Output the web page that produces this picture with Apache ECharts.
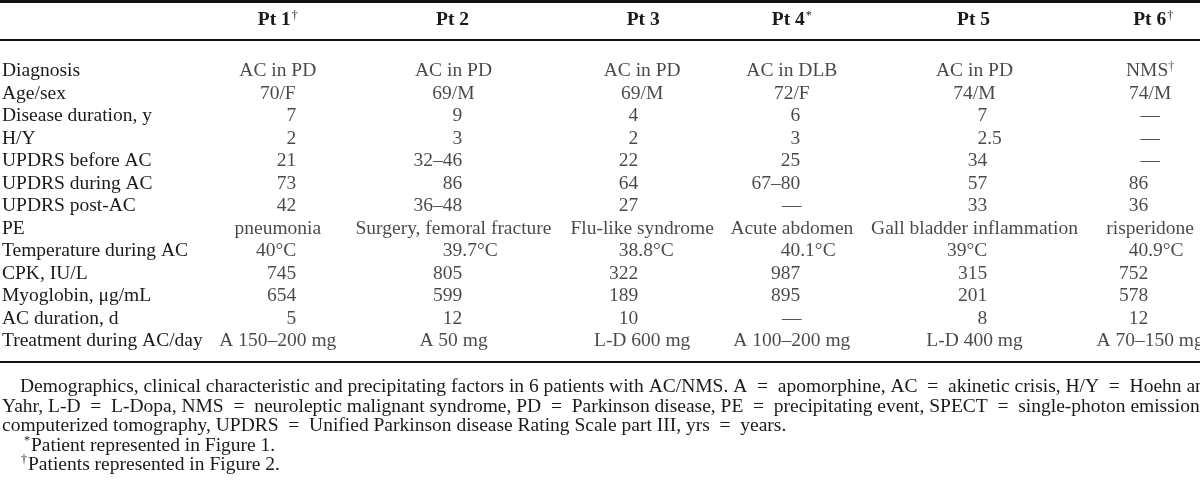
<!DOCTYPE html>
<html><head><meta charset="utf-8">
<script src="https://cdn.jsdelivr.net/npm/echarts@6/dist/echarts.min.js"></script>
<style>html,body{margin:0;padding:0;background:#fff}#c{width:1200px;height:487px}</style>
</head><body><div id="c"></div>
<script>
// ---------- data ----------
const patients = ['Pt 1', 'Pt 2', 'Pt 3', 'Pt 4', 'Pt 5', 'Pt 6'];
const patientMarks = ['†', '', '', '*', '', '†'];
const rowLabels = ['Diagnosis', 'Age/sex', 'Disease duration, y', 'H/Y', 'UPDRS before AC', 'UPDRS during AC',
  'UPDRS post-AC', 'PE', 'Temperature during AC', 'CPK, IU/L', 'Myoglobin, μg/mL', 'AC duration, d', 'Treatment during AC/day'];
const pt1 = ['AC in PD', '70/F', '7', '2', '21', '73', '42', 'pneumonia', '40°C', '745', '654', '5', 'A 150–200 mg'];
const pt2 = ['AC in PD', '69/M', '9', '3', '32–46', '86', '36–48', 'Surgery, femoral fracture', '39.7°C', '805', '599', '12', 'A 50 mg'];
const pt3 = ['AC in PD', '69/M', '4', '2', '22', '64', '27', 'Flu-like syndrome', '38.8°C', '322', '189', '10', 'L-D 600 mg'];
const pt4 = ['AC in DLB', '72/F', '6', '3', '25', '67–80', '—', 'Acute abdomen', '40.1°C', '987', '895', '—', 'A 100–200 mg'];
const pt5 = ['AC in PD', '74/M', '7', '2.5', '34', '57', '33', 'Gall bladder inflammation', '39°C', '315', '201', '8', 'L-D 400 mg'];
const pt6 = ['NMS†', '74/M', '—', '—', '—', '86', '36', 'risperidone', '40.9°C', '752', '578', '12', 'A 70–150 mg'];
const captionLines = [
  'Demographics, clinical characteristic and precipitating factors in 6 patients with AC/NMS. A = apomorphine, AC = akinetic crisis, H/Y = Hoehn and',
  'Yahr, L-D = L-Dopa, NMS = neuroleptic malignant syndrome, PD = Parkinson disease, PE = precipitating event, SPECT = single-photon emission',
  'computerized tomography, UPDRS = Unified Parkinson disease Rating Scale part III, yrs = years.'
];
const footnoteMarks = ['*', '†'];
const footnoteTexts = ['Patient represented in Figure 1.', 'Patients represented in Figure 2.'];

// ---------- layout / style ----------
const FONT = '"Liberation Serif", "DejaVu Serif", serif';
const FS = 19.5;
const INK = '#1a1a1a';
const GRID = { left: 194, top: 59.75, width: 1042, height: 13 * 22.5, outerBoundsMode: 'none', containLabel: false };
const colShift = [-3, -1, 14, -10, -1, 1];             // text-cell centre shift per column
const anchorShift = [15.5, 7.8, 10.1, -1.6, 11.7, -1]; // numeric alignment point per column
const headerShift = [-3, -2, 15, -10, -2, 4];

const columns = [pt1, pt2, pt3, pt4, pt5, pt6];
const centerData = [], rightData = [], leftData = [];
const numRe = /^\d+([.–]\d+)?(°C)?$/;
columns.forEach((col, c) => {
  col.forEach((v, r) => {
    if (numRe.test(v)) {
      const k = v.indexOf('.');
      if (k >= 0) {
        rightData.push({ value: [c, r], text: v.slice(0, k), label: { offset: [anchorShift[c], 0] } });
        leftData.push({ value: [c, r], text: v.slice(k), label: { offset: [anchorShift[c], 0] } });
      } else {
        rightData.push({ value: [c, r], text: v, label: { offset: [anchorShift[c], 0] } });
      }
    } else {
      centerData.push({ value: [c, r], text: v, label: { offset: [colShift[c], 0] } });
    }
  });
});

const supRich = { sup: { fontSize: 12, fontFamily: FONT, color: INK, verticalAlign: 'top', lineHeight: 12 } };
function richText(s) {
  return s.replace(/([†*])/g, '{sup|$1}');
}
function cellSeries(data, align) {
  return {
    type: 'scatter', data: data, symbolSize: 0, silent: true,
    label: {
      show: true, position: 'inside', align: align, verticalAlign: 'middle',
      fontFamily: FONT, fontSize: FS, color: INK,
      formatter: p => richText(p.data.text), rich: supRich
    }
  };
}

const headerRich = {};
patients.forEach((p, i) => {
  const s = headerShift[i];
  const hasMark = !!patientMarks[i];
  headerRich['h' + i] = { fontFamily: FONT, fontSize: FS, fontWeight: 'bold', color: INK,
    padding: [0, (s < 0 && !hasMark) ? -2 * s : 0, 0, s > 0 ? 2 * s : 0] };
  headerRich['s' + i] = { fontFamily: FONT, fontSize: 12, color: INK, verticalAlign: 'top', lineHeight: 12,
    padding: [0, s < 0 ? -2 * s : 0, 0, 1] };
});

const graphics = [];
function rule(y, w) {
  graphics.push({ type: 'line', shape: { x1: 0, y1: y, x2: 1200, y2: y }, style: { stroke: '#111', lineWidth: w }, silent: true });
}
rule(1.5, 3);
rule(40, 2);
rule(362, 2);
const capY = [387, 406.5, 426];
captionLines.forEach((t, i) => {
  graphics.push({ type: 'text', x: i === 0 ? 20 : 2, y: capY[i], silent: true,
    style: { text: t.replace(/ = /g, '\u2002=\u2002'), fontFamily: FONT, fontSize: FS, fill: INK, verticalAlign: 'middle', align: 'left' } });
});
const fnY = [445.5, 465];
footnoteMarks.forEach((m, i) => {
  graphics.push({ type: 'text', x: i === 0 ? 24 : 21, y: fnY[i] - 5, silent: true,
    style: { text: m, fontFamily: FONT, fontSize: 12, fill: INK, verticalAlign: 'middle', align: 'left' } });
  graphics.push({ type: 'text', x: i === 0 ? 31 : 28, y: fnY[i], silent: true,
    style: { text: footnoteTexts[i], fontFamily: FONT, fontSize: FS, fill: INK, verticalAlign: 'middle', align: 'left' } });
});

const chart = echarts.init(document.getElementById('c'), null, { renderer: 'canvas' });
chart.setOption({
  animation: false,
  backgroundColor: '#ffffff',
  grid: GRID,
  xAxis: {
    type: 'category', data: patients, position: 'top',
    axisLine: { show: false }, axisTick: { show: false }, splitLine: { show: false },
    axisLabel: {
      margin: 30, interval: 0, hideOverlap: false,
      formatter: (v, i) => '{h' + i + '|' + v + '}' + (patientMarks[i] ? '{s' + i + '|' + patientMarks[i] + '}' : ''),
      rich: headerRich
    }
  },
  yAxis: {
    type: 'category', data: rowLabels, inverse: true,
    axisLine: { show: false }, axisTick: { show: false }, splitLine: { show: false },
    axisLabel: { align: 'left', margin: 192, fontFamily: FONT, fontSize: FS, color: INK, interval: 0 }
  },
  series: [cellSeries(centerData, 'center'), cellSeries(rightData, 'right'), cellSeries(leftData, 'left')],
  graphic: graphics
});
</script>
</body></html>
